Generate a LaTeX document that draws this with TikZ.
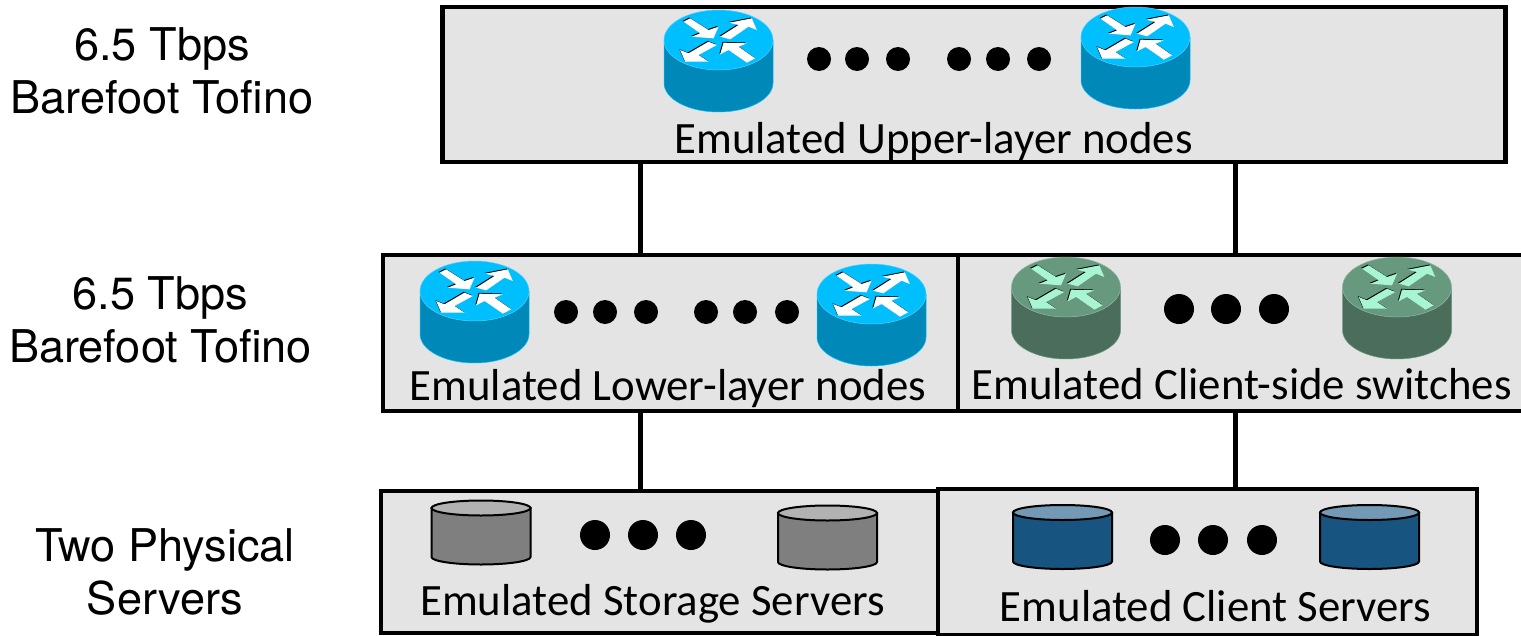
\documentclass[tikz,border=0pt]{standalone}
\usepackage{fontspec}
\setmainfont{TeX Gyre Heros}
\newfontfamily\boxfont{Carlito}
\definecolor{boxgray}{HTML}{E4E4E4}
\definecolor{rtop}{HTML}{00BFFF}
\definecolor{rside}{HTML}{0088B8}
\definecolor{gtop}{HTML}{67997F}
\definecolor{gside}{HTML}{4B6E5C}
\definecolor{garrow}{HTML}{A8F5D3}
\definecolor{stop}{HTML}{B2B2B2}
\definecolor{sside}{HTML}{7F7F7F}
\definecolor{ctop}{HTML}{7399B4}
\definecolor{cside}{HTML}{17547F}
\tikzset{
  panel/.style={draw=black,line width=4.3pt,fill=boxgray,rectangle,inner sep=0pt},
  panellabel/.style={font=\boxfont\fontsize{44.8}{46}\selectfont,text=black,inner sep=0pt,anchor=base},
  sidelabel/.style={font=\fontsize{45.1}{53}\selectfont,align=center,inner sep=0pt,text=black},
  link/.style={draw=black,line width=5pt},
  dotmark/.style={circle,fill=black,inner sep=0pt},
  smalldot/.style={dotmark,minimum size=24pt},
  bigdot/.style={dotmark,minimum size=30pt}
}
\newcommand{\arrowfour}[3]{%
  \begin{scope}[xshift=#1pt,yshift=#2pt,x=.3333pt,y=-.3333pt]
    \fill[#3] (-105,-55)--(-85,-65)--(-30,-30)--(0,-40)--(-15,-5)--(-80,-10)--(-55,-20)--cycle;
    \fill[#3] (5,-10)--(60,-45)--(33,-52)--(100,-65)--(115,-30)--(90,-40)--(35,-2)--cycle;
    \fill[#3] (-30,5)--(-5,15)--(-60,45)--(-30,65)--(-100,65)--(-115,30)--(-90,40)--cycle;
    \fill[#3] (110,55)--(85,68)--(30,30)--(5,43)--(15,8)--(85,10)--(60,20)--cycle;
  \end{scope}}
% router: cx, cy (centre of top face), top colour, side colour, arrow colour
\newcommand{\routerpic}[5]{%
  \begin{scope}[shift={(#1,#2)}]
    \fill[#4,draw=#3,line width=.5pt] (-54.5,0) -- (-54.5,43) arc[start angle=180,end angle=0,x radius=54.5,y radius=29] -- (54.5,0) -- cycle;
    \fill[#3,draw=#3!70!white,line width=.5pt] (0,0) ellipse[x radius=54.5,y radius=30];
    \arrowfour{-.8}{.8}{black}
    \arrowfour{0}{0}{#5}
  \end{scope}}
% cylinder: cx, cy (centre of top face), height, top colour, side colour
\newcommand{\drumpic}[5]{%
  \draw[black,line width=2pt,fill=#5] (#1-49.5,#2) -- (#1-49.5,#2+#3) arc[start angle=180,end angle=0,x radius=49.5,y radius=7.5] -- (#1+49.5,#2) -- cycle;
  \draw[black,line width=2pt,fill=#4] (#1,#2) ellipse[x radius=49.5,y radius=7.5];}
\begin{document}
\begin{tikzpicture}[x=1pt,y=-1pt]
\useasboundingbox (0,0) rectangle (1521,635);
\fill[white] (0,0) rectangle (1521,635);
% connector anchors
\coordinate (leftbus) at (640,0);
\coordinate (rightbus) at (1235,0);
% panels
\node[panel,minimum width=1063pt,minimum height=155pt] (upper) at (974,84.5) {};
\node[panel,minimum width=575pt,minimum height=156pt] (lower) at (670.5,333) {};
\node[panel,minimum width=567pt,minimum height=156pt] (client) at (1241.5,333) {};
\node[panel,minimum width=557pt,minimum height=142pt] (storage) at (659.5,562) {};
\node[panel,minimum width=539pt,minimum height=146pt] (cservers) at (1207.5,562) {};
% connectors
\draw[link] (upper.south -| leftbus) -- (lower.north -| leftbus);
\draw[link] (upper.south -| rightbus) -- (client.north -| rightbus);
\draw[link] (lower.south -| leftbus) -- (storage.north -| leftbus);
\draw[link] (client.south -| rightbus) -- (cservers.north -| rightbus);
% routers
\routerpic{718.5}{40}{rtop}{rside}{white}
\routerpic{1135.5}{37}{rtop}{rside}{white}
\routerpic{474.5}{291}{rtop}{rside}{white}
\routerpic{871.5}{294}{rtop}{rside}{white}
\routerpic{1066}{287}{gtop}{gside}{garrow}
\routerpic{1397}{287}{gtop}{gside}{garrow}
% drums
\drumpic{481}{508}{49}{stop}{sside}
\drumpic{827.5}{513}{49}{stop}{sside}
\drumpic{1062.5}{512.5}{49}{ctop}{cside}
\drumpic{1369.5}{512.5}{49}{ctop}{cside}
% dots
\foreach \n/\x in {a/819,b/857,c/898,d/959,e/998,f/1039}
  \node[smalldot] (u\n) at (\x,59) {};
\foreach \n/\x in {a/566,b/605,c/646,d/706,e/745,f/787}
  \node[smalldot] (l\n) at (\x,312) {};
\foreach \n/\x in {a/1179,b/1226,c/1274}
  \node[bigdot] (g\n) at (\x,309) {};
\foreach \n/\x in {a/595,b/643,c/691}
  \node[bigdot] (s\n) at (\x,535) {};
\foreach \n/\x in {a/1165,b/1213,c/1262}
  \node[bigdot] (k\n) at (\x,540) {};
% panel labels
\node[panellabel] (tupper) at (933.5,153) {Emulated Upper-layer nodes};
\node[panellabel] (tlower) at (668,400) {Emulated Lower-layer nodes};
\node[panellabel] (tclient) at (1241.5,399) {Emulated Client-side switches};
\node[panellabel] (tstorage) at (652.5,615) {Emulated Storage Servers};
\node[panellabel] (tcservers) at (1215.5,621) {Emulated Client Servers};
% side labels
\node[sidelabel] (s1) at (162,71) {6.5 Tbps\\Barefoot Tofino};
\node[sidelabel] (s2) at (160.5,320) {6.5 Tbps\\Barefoot Tofino};
\node[sidelabel] (s3) at (165,572) {Two Physical\\Servers};
\end{tikzpicture}
\end{document}
